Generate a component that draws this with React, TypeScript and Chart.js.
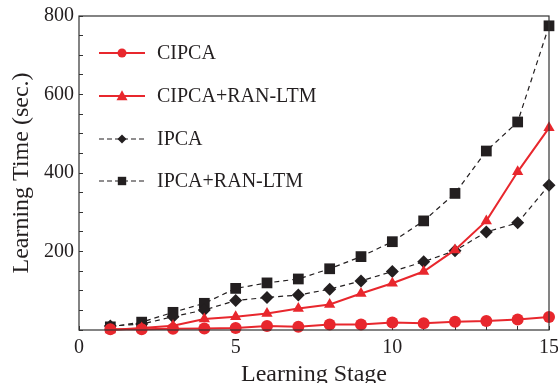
import { useEffect, useRef } from "react";
import { Chart, registerables } from "chart.js";

Chart.register(...registerables);

const stages = [1, 2, 3, 4, 5, 6, 7, 8, 9, 10, 11, 12, 13, 14, 15];
const cipca = [2, 2, 3, 4, 5, 10, 8, 14, 14, 19, 17, 21, 23, 27, 33];
const cipcaRan = [0, 5, 11, 28, 34, 42, 55, 65, 93, 119, 149, 204, 278, 403, 515];
const ipca = [10, 15, 34, 51, 75, 83, 89, 104, 125, 149, 174, 202, 250, 273, 369];
const ipcaRan = [8, 20, 45, 68, 106, 120, 130, 156, 187, 225, 278, 348, 456, 530, 775];

const seriesNames = ["CIPCA", "CIPCA+RAN-LTM", "IPCA", "IPCA+RAN-LTM"];
const xTickLabels = [0, 5, 10, 15];
const yTickLabels = [200, 400, 600, 800];

const RED = "#e8272d";
const BLACK = "#231f20";
const FONT = "'Liberation Serif', 'Times New Roman', serif";

const legendStyles = [
  { color: RED, dash: [] as number[], width: 2, marker: "circle", r: 4.5 },
  { color: RED, dash: [] as number[], width: 2, marker: "triangle", r: 5.5 },
  { color: BLACK, dash: [5, 3], width: 1.2, marker: "diamond", r: 4.5 },
  { color: BLACK, dash: [5, 3], width: 1.2, marker: "square", r: 4.2 },
];

function drawMarker(ctx: CanvasRenderingContext2D, kind: string, x: number, y: number, r: number, color: string) {
  ctx.save();
  ctx.setLineDash([]);
  ctx.fillStyle = color;
  ctx.beginPath();
  if (kind === "circle") {
    ctx.arc(x, y, r, 0, Math.PI * 2);
  } else if (kind === "triangle") {
    ctx.moveTo(x, y - r * 1.05);
    ctx.lineTo(x + r, y + r * 0.75);
    ctx.lineTo(x - r, y + r * 0.75);
    ctx.closePath();
  } else if (kind === "diamond") {
    ctx.moveTo(x, y - r);
    ctx.lineTo(x + r, y);
    ctx.lineTo(x, y + r);
    ctx.lineTo(x - r, y);
    ctx.closePath();
  } else {
    ctx.rect(x - r, y - r, 2 * r, 2 * r);
  }
  ctx.fill();
  ctx.restore();
}

const framePlugin = {
  id: "frameAndLegend",
  afterDraw(chart: any) {
    const { ctx, chartArea } = chart;
    const { left, top, right, bottom } = chartArea;
    ctx.save();
    ctx.strokeStyle = "#333";
    ctx.lineWidth = 1.2;
    ctx.strokeRect(left, top, right - left, bottom - top);

    // legend inside plot area
    const lx0 = left + 20;
    const lx1 = left + 66;
    const mx = left + 43;
    const tx = left + 78;
    const rowY = [top + 37, top + 80, top + 123, top + 165];
    ctx.font = `20px ${FONT}`;
    ctx.textBaseline = "middle";
    ctx.textAlign = "left";
    legendStyles.forEach((s, i) => {
      const y = rowY[i];
      ctx.save();
      ctx.strokeStyle = s.color;
      ctx.lineWidth = s.width;
      ctx.setLineDash(s.dash);
      ctx.beginPath();
      ctx.moveTo(lx0, y);
      ctx.lineTo(lx1, y);
      ctx.stroke();
      ctx.restore();
      drawMarker(ctx, s.marker, mx, y, s.r, s.color);
      ctx.fillStyle = "#231f20";
      ctx.fillText(seriesNames[i], tx, y + 1);
    });
    ctx.restore();
  },
};

export default function App() {
  const ref = useRef<HTMLCanvasElement | null>(null);

  useEffect(() => {
    if (!ref.current) return;
    const chart = new Chart(ref.current, {
      type: "line",
      data: {
        labels: stages,
        datasets: [
          {
            label: seriesNames[0],
            data: stages.map((x, i) => ({ x, y: cipca[i] })),
            borderColor: RED,
            backgroundColor: RED,
            borderWidth: 2,
            pointStyle: "circle",
            pointRadius: 6,
            pointBorderWidth: 0,
            clip: 12,
          },
          {
            label: seriesNames[1],
            data: stages.map((x, i) => ({ x, y: cipcaRan[i] })),
            borderColor: RED,
            backgroundColor: RED,
            borderWidth: 2,
            pointStyle: "triangle",
            pointRadius: 6.5,
            pointBorderWidth: 0,
            clip: 12,
          },
          {
            label: seriesNames[2],
            data: stages.map((x, i) => ({ x, y: ipca[i] })),
            borderColor: BLACK,
            backgroundColor: BLACK,
            borderWidth: 1.2,
            borderDash: [5, 4],
            pointStyle: "rectRot",
            pointRadius: 6.5,
            pointBorderWidth: 0,
            clip: 12,
          },
          {
            label: seriesNames[3],
            data: stages.map((x, i) => ({ x, y: ipcaRan[i] })),
            borderColor: BLACK,
            backgroundColor: BLACK,
            borderWidth: 1.2,
            borderDash: [5, 4],
            pointStyle: "rect",
            pointRadius: 7.6,
            pointBorderWidth: 0,
            clip: 12,
          },
        ],
      },
      options: {
        animation: false,
        responsive: false,
        maintainAspectRatio: false,
        devicePixelRatio: 1,
        layout: { padding: { top: 16, right: 9, left: 0, bottom: 0 } },
        plugins: {
          legend: { display: false },
          tooltip: { enabled: false },
        },
        scales: {
          x: {
            type: "linear",
            min: 0,
            max: 15,
            ticks: {
              stepSize: 1,
              autoSkip: false,
              maxRotation: 0,
              padding: 10,
              color: "#231f20",
              font: { family: FONT, size: 20 },
              callback: (v: any) => (xTickLabels.includes(Number(v)) ? String(v) : ""),
            },
            grid: {
              drawOnChartArea: false,
              drawTicks: true,
              tickLength: -4,
              color: "#333",
            },
            border: { display: false },
            title: {
              display: true,
              text: "Learning Stage",
              color: "#231f20",
              font: { family: FONT, size: 24, lineHeight: 1.2 },
              padding: { top: 0, bottom: 3 },
            },
            afterFit: (s: any) => {
              s.height = 62;
              s.paddingLeft = 0;
              s.paddingRight = 0;
            },
          },
          y: {
            min: 0,
            max: 800,
            ticks: {
              stepSize: 50,
              autoSkip: false,
              padding: 9,
              color: "#231f20",
              font: { family: FONT, size: 20 },
              callback: (v: any) => (yTickLabels.includes(Number(v)) ? String(v) : ""),
            },
            grid: {
              drawOnChartArea: false,
              drawTicks: true,
              tickLength: -4,
              color: "#333",
            },
            border: { display: false },
            title: {
              display: true,
              text: "Learning Time (sec.)",
              color: "#231f20",
              font: { family: FONT, size: 24, lineHeight: 1.2 },
              padding: { top: 7, bottom: 0 },
            },
            afterFit: (s: any) => {
              s.width = 79;
              s.paddingTop = 0;
              s.paddingBottom = 0;
            },
          },
        },
      },
      plugins: [framePlugin],
    });
    return () => chart.destroy();
  }, []);

  return (
    <div
      style={{
        position: "fixed",
        left: 0,
        top: 0,
        width: 558,
        height: 383,
        overflow: "hidden",
        background: "#fff",
      }}
    >
      <canvas ref={ref} width={558} height={392} style={{ display: "block", width: 558, height: 392 }} />
    </div>
  );
}
